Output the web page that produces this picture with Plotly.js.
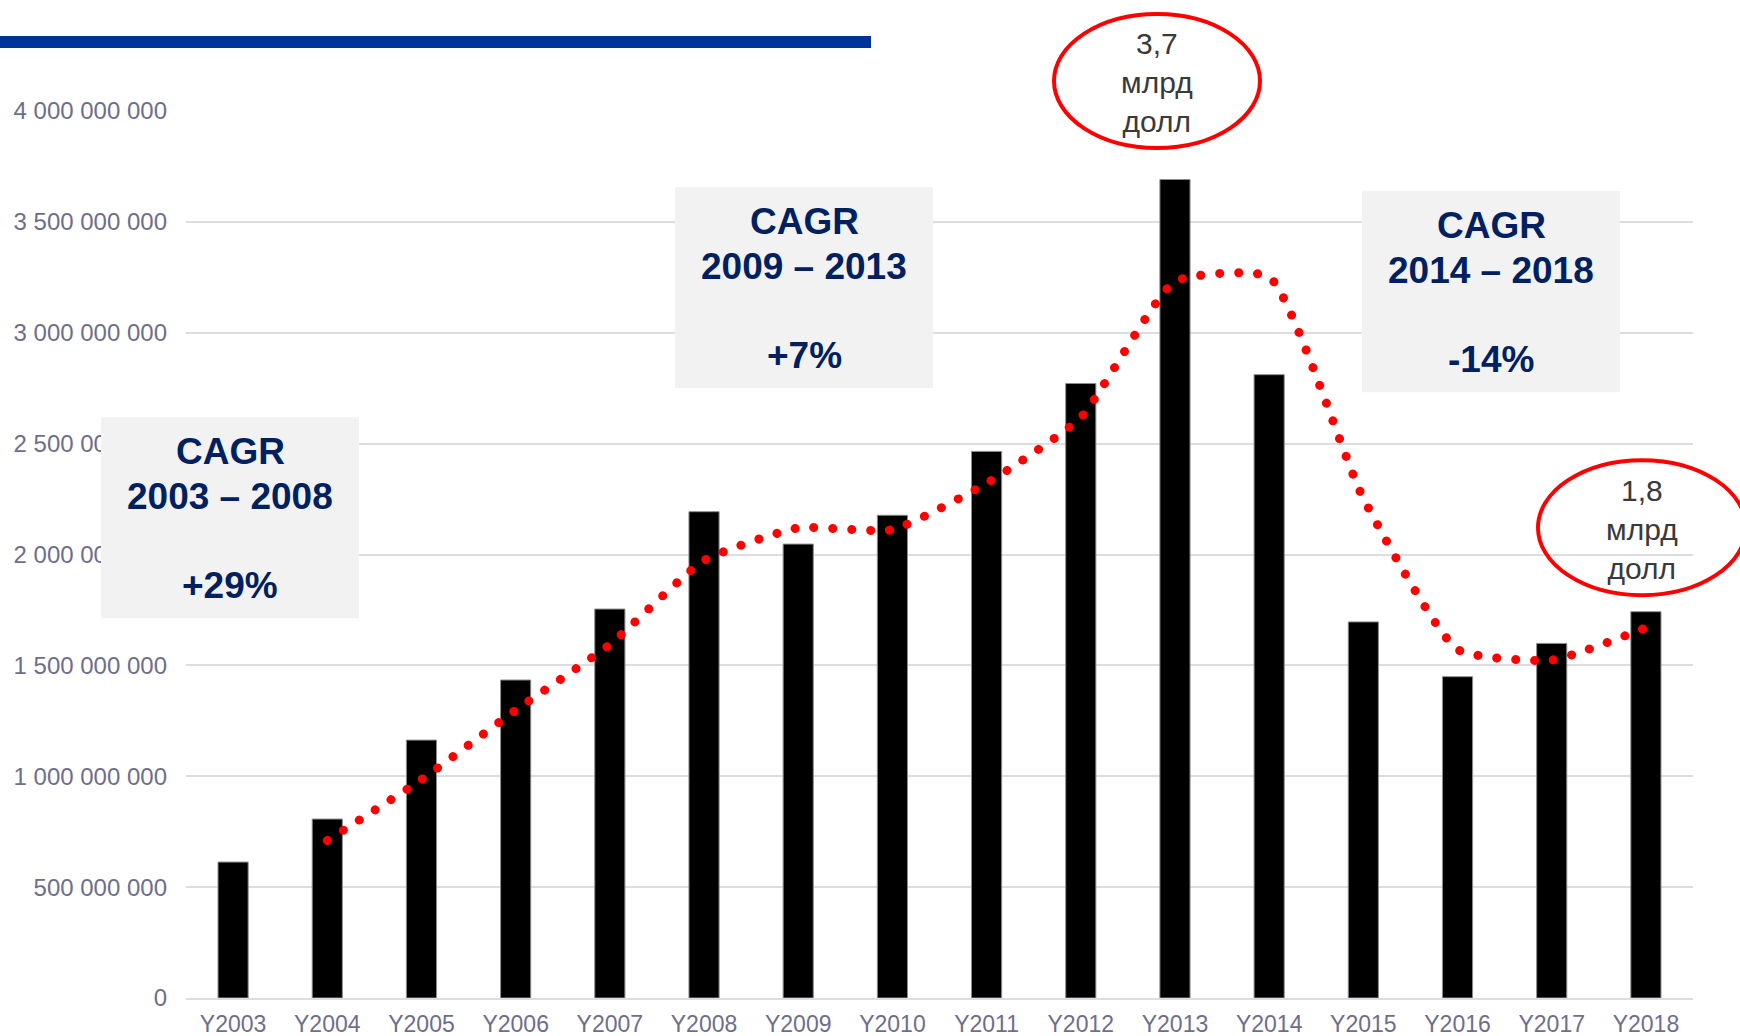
<!DOCTYPE html>
<html>
<head>
<meta charset="utf-8">
<script src="https://cdn.plot.ly/plotly-3.0.1.min.js"></script>
<style>
html, body { margin: 0; padding: 0; background: #ffffff; }
#chart { width: 1740px; height: 1036px; }
</style>
</head>
<body>
<div id="chart"></div>
<script>
// ---------- data ----------
const years = ['Y2003','Y2004','Y2005','Y2006','Y2007','Y2008','Y2009','Y2010',
               'Y2011','Y2012','Y2013','Y2014','Y2015','Y2016','Y2017','Y2018'];
const exportValues = [613e6, 807e6, 1163e6, 1434e6, 1754e6, 2193e6, 2047e6, 2177e6,
                      2465e6, 2771e6, 3691e6, 2811e6, 1696e6, 1449e6, 1599e6, 1742e6];
// dotted red trendline (2-period moving average in the original), read point by point
const trendYears = ['Y2004','Y2005','Y2006','Y2007','Y2008','Y2009','Y2010','Y2011',
                    'Y2012','Y2013','Y2014','Y2015','Y2016','Y2017','Y2018'];
const trendValues = [710e6, 985e6, 1298e6, 1594e6, 1973e6, 2120e6, 2112e6, 2321e6,
                     2618e6, 3231e6, 3251e6, 2253e6, 1572e6, 1524e6, 1670e6];
const yTicks = [0, 5e8, 1e9, 1.5e9, 2e9, 2.5e9, 3e9, 3.5e9, 4e9];
const cagrTitle = 'CAGR';
const cagrPeriods = ['2003 – 2008', '2009 – 2013', '2014 – 2018'];
const cagrRates = ['+29%', '+7%', '-14%'];
const calloutTexts = ['3,7<br>млрд<br>долл', '1,8<br>млрд<br>долл'];

// ---------- geometry (pixels of the 1740x1036 page) ----------
const L = 186, R = 1693, T = 111, B = 997.6, W = 1740, H = 1036;
const px = x => (x - L) / (R - L);
const py = y => (B - y) / (B - T);

const boxes = [
  {x0: 101, x1: 359, y0: 417, y1: 618},
  {x0: 675, x1: 933, y0: 187, y1: 388},
  {x0: 1362, x1: 1620, y0: 191, y1: 392}
];
const ellipses = [
  {x0: 1054, x1: 1260, y0: 14, y1: 148, tx: 1157, ty: 83},
  {x0: 1538, x1: 1746, y0: 460, y1: 595, tx: 1642, ty: 529}
];

const FONT = 'Liberation Sans, Arial, sans-serif';
const NAVY = '#002060';
const AXIS_TXT = '#6e6e8a';
const GRID = '#dcdce3';

const shapes = [];
const annotations = [];

// blue header rule
shapes.push({type: 'rect', xref: 'paper', yref: 'paper', layer: 'above',
  x0: px(0), x1: px(871), y0: py(48), y1: py(36),
  fillcolor: '#003399', line: {width: 0}});

// CAGR boxes
const BOLD = 37;
const baseOffsets = [47, 92, 181];
boxes.forEach((b, i) => {
  shapes.push({type: 'rect', xref: 'paper', yref: 'paper', layer: 'above',
    x0: px(b.x0), x1: px(b.x1), y0: py(b.y1), y1: py(b.y0),
    fillcolor: '#f2f2f2', line: {width: 0}});
  const lines = [cagrTitle, cagrPeriods[i], cagrRates[i]];
  lines.forEach((t, k) => {
    const baseline = b.y0 + baseOffsets[k];
    const mid = baseline - 0.3465 * BOLD;
    annotations.push({xref: 'paper', yref: 'paper', x: px((b.x0 + b.x1) / 2), y: py(mid),
      xanchor: 'center', yanchor: 'middle', showarrow: false, borderpad: 0,
      text: '<b>' + t + '</b>',
      font: {family: FONT, size: BOLD, color: NAVY}});
  });
});

// red callout ellipses
ellipses.forEach((e, i) => {
  shapes.push({type: 'circle', xref: 'paper', yref: 'paper', layer: 'above',
    x0: px(e.x0), x1: px(e.x1), y0: py(e.y1), y1: py(e.y0),
    fillcolor: 'rgba(0,0,0,0)', line: {color: '#ff0000', width: 4}});
  annotations.push({xref: 'paper', yref: 'paper', x: px(e.tx), y: py(e.ty),
    xanchor: 'center', yanchor: 'middle', showarrow: false, borderpad: 0,
    text: calloutTexts[i], font: {family: FONT, size: 30, color: '#3a3a3a'}});
});

const traces = [
  {type: 'bar', x: years, y: exportValues,
   marker: {color: '#000000', line: {color: '#8c8c8c', width: 1}},
   hoverinfo: 'x+y'},
  {type: 'scatter', mode: 'lines', x: trendYears, y: trendValues,
   line: {color: '#ff0000', width: 9, shape: 'spline', smoothing: 0.5, dash: '0.1px,18.8px'},
   hoverinfo: 'skip'}
];

const layout = {
  width: W, height: H,
  margin: {l: L, r: W - R, t: T, b: H - B, pad: 0},
  paper_bgcolor: '#ffffff', plot_bgcolor: '#ffffff',
  showlegend: false,
  bargap: 0.68,
  separators: ', ',
  font: {family: FONT, color: AXIS_TXT, size: 24},
  xaxis: {type: 'category', showgrid: false, zeroline: false,
    showline: true, linecolor: GRID, linewidth: 2, ticks: '',
    ticklabelstandoff: 4,
    tickfont: {family: FONT, size: 23, color: AXIS_TXT}, automargin: false,
    range: [-0.5, 15.5], fixedrange: true},
  yaxis: {range: [0, 4e9], tickvals: yTicks, tickformat: ',d',
    showgrid: true, gridcolor: GRID, gridwidth: 2, zeroline: false, showline: false,
    ticks: '', ticklabelstandoff: 18,
    tickfont: {family: FONT, size: 24, color: AXIS_TXT}, automargin: false, fixedrange: true},
  shapes: shapes,
  annotations: annotations
};

Plotly.newPlot('chart', traces, layout, {displayModeBar: false, responsive: false}).then(gd => {
  gd.querySelectorAll('.scatterlayer .trace path.js-line').forEach(p => {
    p.style.strokeLinecap = 'round';
    p.style.strokeDasharray = '0.1px,18.8px';
  });
});
</script>
</body>
</html>
